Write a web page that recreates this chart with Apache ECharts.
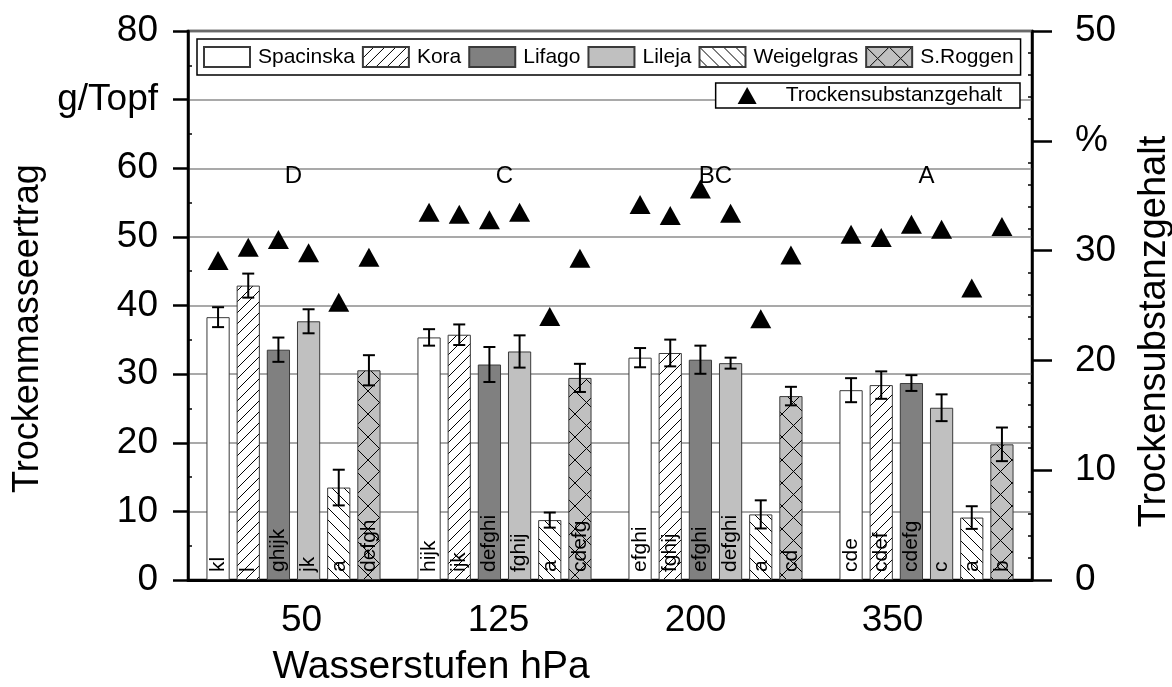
<!DOCTYPE html>
<html>
<head>
<meta charset="utf-8">
<script src="https://cdn.jsdelivr.net/npm/echarts@6/dist/echarts.min.js"></script>
<style>html,body{margin:0;padding:0;background:#fff}#c{width:1172px;height:687px}</style>
</head>
<body>
<div id="c"></div>
<script>
// ---------- data ----------
const groups = ['50', '125', '200', '350'];
const cultivars = ['Spacinska', 'Kora', 'Lifago', 'Lileja', 'Weigelgras', 'S.Roggen'];
const groupLetters = ['D', 'C', 'BC', 'A'];

const yieldSpacinska = [38.3, 35.35, 32.4, 27.66];
const yieldKora = [42.9, 35.74, 33.08, 28.4];
const yieldLifago = [33.56, 31.4, 32.1, 28.7];
const yieldLileja = [37.7, 33.3, 31.6, 25.1];
const yieldWeigelgras = [13.47, 8.73, 9.56, 9.1];
const yieldSRoggen = [30.56, 29.45, 26.8, 19.77];

const errSpacinska = [1.45, 1.2, 1.4, 1.75];
const errKora = [1.75, 1.5, 1.95, 2.0];
const errLifago = [1.77, 2.55, 2.05, 1.15];
const errLileja = [1.75, 2.35, 0.8, 1.95];
const errWeigelgras = [2.6, 1.1, 2.05, 1.65];
const errSRoggen = [2.2, 2.05, 1.35, 2.45];

const tsSpacinska = [29.1, 33.5, 34.2, 31.5];
const tsKora = [30.3, 33.3, 33.2, 31.2];
const tsLifago = [31.0, 32.8, 35.6, 32.4];
const tsLileja = [29.8, 33.5, 33.4, 31.95];
const tsWeigelgras = [25.3, 24.0, 23.8, 26.6];
const tsSRoggen = [29.4, 29.3, 29.6, 32.2];

const lettersSpacinska = ['kl', 'hijk', 'efghi', 'cde'];
const lettersKora = ['l', 'ijk', 'fghij', 'cdef'];
const lettersLifago = ['ghijk', 'defghi', 'efghi', 'cdefg'];
const lettersLileja = ['jk', 'fghij', 'defghi', 'c'];
const lettersWeigelgras = ['a', 'a', 'a', 'a'];
const lettersSRoggen = ['defgh', 'cdefg', 'cd', 'b'];

const leftTicks = [0, 10, 20, 30, 40, 50, 60, 70, 80];
const rightTicks = [0, 10, 20, 30, 40, 50];

// ---------- helpers ----------
const yields = [yieldSpacinska, yieldKora, yieldLifago, yieldLileja, yieldWeigelgras, yieldSRoggen];
const errs = [errSpacinska, errKora, errLifago, errLileja, errWeigelgras, errSRoggen];
const tss = [tsSpacinska, tsKora, tsLifago, tsLileja, tsWeigelgras, tsSRoggen];
const letters = [lettersSpacinska, lettersKora, lettersLifago, lettersLileja, lettersWeigelgras, lettersSRoggen];

const CAT_GAP = 0.175, BAR_GAP = 0.30;
const FONT = '"Liberation Sans", Arial, sans-serif';

function pattern(kind, bg, size) {
  const c = document.createElement('canvas');
  c.width = size; c.height = size;
  const g = c.getContext('2d');
  g.fillStyle = bg; g.fillRect(0, 0, size, size);
  g.strokeStyle = '#000'; g.lineWidth = 1;
  g.beginPath();
  if (kind === 'fwd' || kind === 'cross') {
    g.moveTo(-1, size + 1); g.lineTo(size + 1, -1);
  }
  if (kind === 'back' || kind === 'cross') {
    g.moveTo(-1, -1); g.lineTo(size + 1, size + 1);
  }
  g.stroke();
  return { image: c, repeat: 'repeat' };
}

const fills = [
  '#ffffff',
  pattern('fwd', '#ffffff', 11),
  '#808080',
  '#c0c0c0',
  pattern('back', '#ffffff', 12),
  pattern('cross', '#c0c0c0', 23)
];

function offsetFor(api, k) {
  const band = api.coord([1, 0])[0] - api.coord([0, 0])[0];
  const n = cultivars.length;
  const used = band * (1 - CAT_GAP);
  const w = used / (n + (n - 1) * BAR_GAP);
  return -used / 2 + w / 2 + k * w * (1 + BAR_GAP);
}

const barSeries = cultivars.map((name, k) => ({
  name: name,
  type: 'bar',
  xAxisIndex: 0, yAxisIndex: 0,
  barCategoryGap: (CAT_GAP * 100) + '%',
  barGap: (BAR_GAP * 100) + '%',
  data: yields[k],
  itemStyle: { color: fills[k], borderColor: '#3a3a3a', borderWidth: 1 },
  label: {
    show: true, position: 'insideBottom', rotate: 90, distance: 8,
    align: 'left', verticalAlign: 'middle',
    fontFamily: FONT, fontSize: 21, color: '#000',
    formatter: p => letters[k][p.dataIndex]
  },
  emphasis: { disabled: true },
  z: 2
}));

const errData = [];
const tsData = [];
cultivars.forEach((c, k) => {
  groups.forEach((g, i) => {
    errData.push([i, k, yields[k][i], errs[k][i]]);
    tsData.push([i, k, tss[k][i]]);
  });
});

const option = {
  animation: false,
  backgroundColor: '#fff',
  textStyle: { fontFamily: FONT },
  grid: [
    { left: 188, right: 140, top: 31, bottom: 107, containLabel: false, outerBoundsMode: 'none',
      show: true, borderColor: '#000', borderWidth: 2.5, backgroundColor: 'transparent' },
    { left: 203, right: 181, top: 31, bottom: 107, containLabel: false, outerBoundsMode: 'none' }
  ],
  legend: [
    {
      left: 197, top: 39,
      data: cultivars.map(n => ({ name: n, icon: 'rect' })),
      itemWidth: 46, itemHeight: 20, itemGap: 7,
      padding: [7, 7, 7, 6],
      borderColor: '#000', borderWidth: 1.5, backgroundColor: '#fff',
      textStyle: { fontFamily: FONT, fontSize: 21, color: '#000', padding: [0, 0, 0, 3] },
      selectedMode: false
    },
    {
      right: 152, top: 83,
      data: [{ name: 'Trockensubstanzgehalt', icon: 'triangle' }],
      itemWidth: 19, itemHeight: 17,
      padding: [2, 18, 2, 22],
      borderColor: '#000', borderWidth: 1.5, backgroundColor: '#fff',
      textStyle: { fontFamily: FONT, fontSize: 21, color: '#000', padding: [0, 0, 0, 24] },
      selectedMode: false
    }
  ],
  xAxis: [
    {
      type: 'category', gridIndex: 0, data: groups,
      axisLine: { lineStyle: { color: '#000', width: 3 } },
      axisTick: { show: false },
      axisLabel: { show: false },
      name: 'Wasserstufen hPa', nameLocation: 'middle', nameGap: 68,
      nameTextStyle: { fontFamily: FONT, fontSize: 39, color: '#000', padding: [0, 358, 0, 0] }
    },
    {
      type: 'category', gridIndex: 1, data: groups,
      axisLine: { show: false }, axisTick: { show: false },
      axisLabel: { fontFamily: FONT, fontSize: 37, color: '#000', margin: 22 }
    }
  ],
  yAxis: [
    {
      type: 'value', gridIndex: 0, min: 0, max: 80, interval: 10, position: 'left',
      axisLine: { show: true, lineStyle: { color: '#000', width: 2.5 } },
      axisTick: { show: true, inside: false, length: 15, lineStyle: { color: '#000', width: 2.5 } },
      axisLabel: {
        fontFamily: FONT, fontSize: 37, color: '#000', margin: 30,
        formatter: v => (v === 70 ? 'g/Topf' : (leftTicks.indexOf(v) >= 0 ? String(v) : ''))
      },
      splitLine: { show: true, lineStyle: { color: '#8c8c8c', width: 1.5 } },
      name: 'Trockenmasseertrag', nameLocation: 'middle', nameGap: 116, nameRotate: 90,
      nameTextStyle: { fontFamily: FONT, fontSize: 36, color: '#000', padding: [0, 46, 0, 0] }
    },
    {
      type: 'value', gridIndex: 0, min: 0, max: 50, interval: 10, position: 'right',
      axisLine: { show: true, lineStyle: { color: '#000', width: 2.5 } },
      axisTick: { show: true, inside: false, length: 20, lineStyle: { color: '#000', width: 2.5 } },
      axisLabel: {
        fontFamily: FONT, fontSize: 37, color: '#000', margin: 43,
        formatter: v => (v === 40 ? '%' : (rightTicks.indexOf(v) >= 0 ? String(v) : ''))
      },
      splitLine: { show: false },
      name: 'Trockensubstanzgehalt', nameLocation: 'middle', nameGap: 104, nameRotate: 90,
      nameTextStyle: { fontFamily: FONT, fontSize: 38, color: '#000', padding: [0, 52, 0, 0] }
    },
    { type: 'value', gridIndex: 1, show: false, min: 0, max: 80 },
    {
      type: 'value', gridIndex: 0, min: 0, max: 80, interval: 10, position: 'left',
      axisLine: { show: false }, axisLabel: { show: false }, splitLine: { show: false },
      axisTick: { show: false, inside: true },
      minorTick: { show: true, splitNumber: 2, length: 4, lineStyle: { color: '#000', width: 1.5 } }
    },
    {
      type: 'value', gridIndex: 0, min: 0, max: 50, interval: 10, position: 'right',
      axisLine: { show: false }, axisLabel: { show: false }, splitLine: { show: false },
      axisTick: { show: false, inside: true },
      minorTick: { show: true, splitNumber: 5, length: 4, lineStyle: { color: '#000', width: 1.5 } }
    }
  ],
  series: [
    ...barSeries,
    {
      name: 'err', type: 'custom', xAxisIndex: 0, yAxisIndex: 0, z: 5,
      data: errData,
      encode: { x: 0, y: 2 },
      renderItem: (params, api) => {
        const gi = api.value(0), k = api.value(1), m = api.value(2), e = api.value(3);
        const cx = api.coord([gi, 0])[0] + offsetFor(api, k);
        const yHi = api.coord([gi, m + e])[1];
        const yLo = api.coord([gi, m - e])[1];
        const cap = 6;
        const st = { stroke: '#000', lineWidth: 2 };
        return {
          type: 'group', children: [
            { type: 'line', shape: { x1: cx, y1: yHi, x2: cx, y2: yLo }, style: st },
            { type: 'line', shape: { x1: cx - cap, y1: yHi, x2: cx + cap, y2: yHi }, style: st },
            { type: 'line', shape: { x1: cx - cap, y1: yLo, x2: cx + cap, y2: yLo }, style: st }
          ]
        };
      }
    },
    {
      name: 'Trockensubstanzgehalt', type: 'custom', xAxisIndex: 0, yAxisIndex: 1, z: 6,
      itemStyle: { color: '#000' },
      data: tsData,
      encode: { x: 0, y: 2 },
      renderItem: (params, api) => {
        const gi = api.value(0), k = api.value(1), v = api.value(2);
        const cx = api.coord([gi, v])[0] + offsetFor(api, k);
        const cy = api.coord([gi, v])[1];
        const w = 21, h = 19;
        return {
          type: 'polygon',
          shape: { points: [[cx, cy - h / 2], [cx + w / 2, cy + h / 2], [cx - w / 2, cy + h / 2]] },
          style: { fill: '#000' }
        };
      }
    },
    {
      name: 'groupLetters', type: 'scatter', xAxisIndex: 0, yAxisIndex: 0, symbolSize: 0,
      data: groups.map((g, i) => [i, 58.8]),
      itemStyle: { color: '#000', opacity: 1 },
      label: {
        show: true, position: 'inside', fontFamily: FONT, fontSize: 24, color: '#000',
        formatter: p => groupLetters[p.dataIndex]
      },
      silent: true
    }
  ]
};

const chart = echarts.init(document.getElementById('c'), null, { renderer: 'canvas' });
chart.setOption(option);
</script>
</body>
</html>
